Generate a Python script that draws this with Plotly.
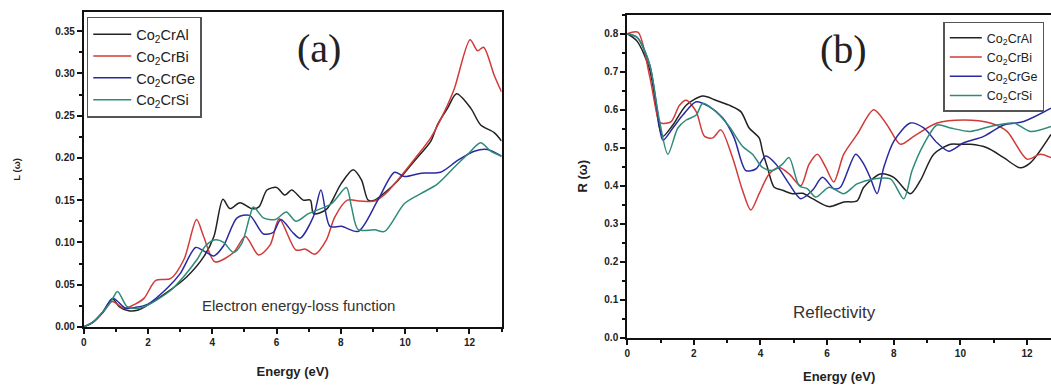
import plotly.graph_objects as go

# ---------------- data: (a) electron energy-loss function ----------------
names = ["Co<sub>2</sub>CrAl", "Co<sub>2</sub>CrBi", "Co<sub>2</sub>CrGe", "Co<sub>2</sub>CrSi"]
colors = ["#222222", "#d23a3a", "#2a2aa0", "#2e8b7a"]

eel_al_E = [0, 0.3, 0.6, 0.9, 1.1, 1.4, 1.7, 2.0, 2.6, 3.2, 3.75, 4.05, 4.33, 4.55, 4.86, 5.23, 5.45, 5.7, 6.0, 6.26, 6.47, 6.83, 7.05, 7.15, 7.55, 8.0, 8.38, 8.64, 8.85, 9.05, 9.4, 9.77, 10.3, 10.8, 11.0, 11.32, 11.6, 12.04, 12.35, 12.77, 13.0]
eel_al_L = [0, 0.006, 0.018, 0.033, 0.024, 0.019, 0.020, 0.026, 0.041, 0.059, 0.084, 0.107, 0.151, 0.140, 0.147, 0.140, 0.142, 0.162, 0.165, 0.156, 0.162, 0.150, 0.150, 0.134, 0.139, 0.169, 0.186, 0.174, 0.150, 0.150, 0.160, 0.173, 0.197, 0.220, 0.239, 0.259, 0.276, 0.259, 0.239, 0.230, 0.220]

eel_bi_E = [0, 0.3, 0.6, 0.88, 1.26, 1.6, 1.88, 2.24, 2.7, 3.12, 3.51, 3.73, 4.08, 4.66, 5.03, 5.44, 5.8, 6.08, 6.6, 6.9, 7.19, 7.55, 7.81, 8.2, 8.6, 9.05, 9.4, 9.77, 10.3, 10.8, 11.2, 11.53, 12.02, 12.25, 12.44, 12.77, 13.0]
eel_bi_L = [0, 0.006, 0.017, 0.030, 0.022, 0.027, 0.034, 0.055, 0.057, 0.080, 0.127, 0.107, 0.077, 0.088, 0.107, 0.085, 0.097, 0.128, 0.091, 0.092, 0.086, 0.103, 0.130, 0.150, 0.149, 0.149, 0.158, 0.174, 0.199, 0.224, 0.253, 0.282, 0.340, 0.327, 0.331, 0.298, 0.278]

eel_ge_E = [0, 0.3, 0.6, 0.9, 1.3, 1.6, 2.0, 2.6, 3.0, 3.48, 3.73, 4.05, 4.35, 4.77, 5.16, 5.59, 5.9, 6.13, 6.52, 6.73, 7.14, 7.38, 7.66, 8.02, 8.54, 9.15, 9.67, 9.98, 10.5, 11.1, 11.63, 12.15, 12.56, 13.0]
eel_ge_L = [0, 0.006, 0.018, 0.034, 0.022, 0.023, 0.027, 0.046, 0.063, 0.094, 0.090, 0.084, 0.096, 0.129, 0.132, 0.110, 0.112, 0.127, 0.111, 0.105, 0.130, 0.162, 0.119, 0.119, 0.113, 0.150, 0.183, 0.178, 0.182, 0.183, 0.197, 0.208, 0.210, 0.202]

eel_si_E = [0, 0.3, 0.6, 0.85, 1.05, 1.35, 1.7, 2.0, 2.7, 3.12, 3.53, 3.79, 4.1, 4.35, 4.66, 4.92, 5.16, 5.28, 5.59, 5.96, 6.3, 6.6, 6.99, 7.71, 8.17, 8.33, 8.54, 9.05, 9.36, 9.98, 10.5, 11.0, 11.53, 11.94, 12.35, 12.66, 13.0]
eel_si_L = [0, 0.006, 0.018, 0.030, 0.042, 0.024, 0.022, 0.026, 0.043, 0.060, 0.080, 0.096, 0.103, 0.100, 0.088, 0.099, 0.130, 0.142, 0.129, 0.127, 0.136, 0.125, 0.134, 0.146, 0.165, 0.142, 0.115, 0.115, 0.113, 0.146, 0.158, 0.169, 0.189, 0.204, 0.218, 0.208, 0.202]

# ---------------- data: (b) reflectivity ----------------
ref_al_E = [0, 0.3, 0.67, 0.97, 1.07, 1.37, 1.77, 2.27, 2.66, 3.06, 3.41, 3.66, 3.96, 4.06, 4.21, 4.41, 4.66, 4.96, 5.26, 5.56, 6.06, 6.5, 6.9, 7.1, 7.6, 8.0, 8.5, 8.8, 9.2, 9.7, 10.0, 10.3, 10.8, 11.3, 11.8, 12.1, 12.72]
ref_al_R = [0.80, 0.78, 0.707, 0.552, 0.53, 0.56, 0.612, 0.636, 0.625, 0.612, 0.595, 0.552, 0.526, 0.491, 0.448, 0.396, 0.388, 0.379, 0.38, 0.366, 0.345, 0.357, 0.36, 0.396, 0.431, 0.422, 0.379, 0.414, 0.483, 0.509, 0.509, 0.509, 0.50, 0.474, 0.447, 0.46, 0.535]

ref_bi_E = [0, 0.32, 0.67, 0.92, 1.0, 1.32, 1.57, 1.77, 2.07, 2.32, 2.57, 2.81, 3.16, 3.46, 3.71, 3.96, 4.26, 4.56, 4.86, 5.21, 5.46, 5.71, 5.96, 6.2, 6.5, 6.9, 7.4, 7.8, 8.2, 8.6, 9.3, 10.1, 10.9, 11.4, 12.0, 12.4, 12.72]
ref_bi_R = [0.80, 0.804, 0.69, 0.578, 0.565, 0.569, 0.612, 0.625, 0.595, 0.53, 0.526, 0.547, 0.474, 0.388, 0.336, 0.379, 0.431, 0.448, 0.431, 0.40, 0.457, 0.483, 0.448, 0.41, 0.483, 0.535, 0.60, 0.56, 0.509, 0.53, 0.565, 0.573, 0.565, 0.543, 0.47, 0.483, 0.474]

ref_ge_E = [0, 0.3, 0.67, 0.9, 1.07, 1.37, 1.67, 2.07, 2.46, 2.87, 3.21, 3.56, 3.86, 4.16, 4.46, 4.86, 5.21, 5.56, 5.86, 6.21, 6.4, 6.86, 7.1, 7.3, 7.5, 7.7, 8.0, 8.5, 8.9, 9.3, 9.65, 10.1, 10.7, 11.3, 11.9, 12.72]
ref_ge_R = [0.80, 0.79, 0.72, 0.60, 0.52, 0.552, 0.586, 0.621, 0.608, 0.578, 0.526, 0.44, 0.444, 0.478, 0.457, 0.405, 0.366, 0.388, 0.422, 0.392, 0.396, 0.483, 0.457, 0.42, 0.379, 0.448, 0.517, 0.565, 0.552, 0.513, 0.491, 0.513, 0.53, 0.56, 0.569, 0.604]

ref_si_E = [0, 0.3, 0.67, 0.95, 1.22, 1.52, 1.77, 2.07, 2.27, 2.66, 3.06, 3.46, 3.76, 4.06, 4.36, 4.66, 4.86, 5.16, 5.41, 5.66, 6.06, 6.5, 6.9, 7.4, 7.9, 8.3, 8.55, 8.9, 9.3, 9.7, 10.3, 10.9, 11.6, 12.1, 12.72]
ref_si_R = [0.80, 0.79, 0.72, 0.58, 0.483, 0.552, 0.573, 0.586, 0.617, 0.595, 0.556, 0.504, 0.483, 0.448, 0.44, 0.457, 0.474, 0.40, 0.392, 0.370, 0.396, 0.379, 0.405, 0.418, 0.418, 0.366, 0.44, 0.509, 0.56, 0.552, 0.543, 0.556, 0.565, 0.543, 0.556]

eel_sets = [(eel_al_E, eel_al_L), (eel_bi_E, eel_bi_L), (eel_ge_E, eel_ge_L), (eel_si_E, eel_si_L)]
ref_sets = [(ref_al_E, ref_al_R), (ref_bi_E, ref_bi_R), (ref_ge_E, ref_ge_R), (ref_si_E, ref_si_R)]

FONT = "Liberation Sans, Arial, sans-serif"
SERIF = "Liberation Serif, Times New Roman, serif"
fig = go.Figure()

for i, ((x, y), n, c) in enumerate(zip(eel_sets, names, colors)):
    fig.add_trace(go.Scatter(x=x, y=y, name=n, mode="lines", xaxis="x", yaxis="y",
                             line=dict(color=c, width=1.5, shape="spline", smoothing=0.8),
                             legend="legend", legendgroup=f"a{i}"))
for i, ((x, y), n, c) in enumerate(zip(ref_sets, names, colors)):
    fig.add_trace(go.Scatter(x=x, y=y, name=n, mode="lines", xaxis="x2", yaxis="y2",
                             line=dict(color=c, width=1.5, shape="spline", smoothing=0.8),
                             legend="legend2", legendgroup=f"b{i}"))

W, H = 1051, 387
def px_x(p): return p / W
def px_y(p): return 1 - p / H

tickfont = dict(family=FONT, size=10, color="#222", weight="bold")
minor_common = dict(ticks="outside", ticklen=3, tickwidth=1.5, tickcolor="#111")
axis_common = dict(showline=True, linewidth=2, linecolor="#111", ticks="outside", ticklen=5,
                   tickwidth=2, tickcolor="#111", showgrid=False, zeroline=False,
                   tickfont=tickfont)
title_font = dict(family=FONT, size=13, color="#222", weight="bold")

fig.update_layout(
    width=W, height=H, margin=dict(l=0, r=0, t=0, b=0),
    paper_bgcolor="white", plot_bgcolor="white",
    font=dict(family=FONT, color="#222"),
    xaxis=dict(domain=[px_x(81), px_x(500)], range=[0, 13], dtick=2, mirror=True,
               minor=dict(dtick=1, **minor_common),
               title=dict(text="Energy (eV)", font=title_font, standoff=20),
               anchor="y", **axis_common),
    yaxis=dict(domain=[px_y(332), px_y(12)], range=[0, 0.373], dtick=0.05, tickformat=".2f",
               mirror=True,
               minor=dict(dtick=0.025, **minor_common),
               title=dict(text="L (ω)", font=dict(family=FONT, size=9.5, color="#222", weight="bold"), standoff=33),
               anchor="x", **axis_common),
    xaxis2=dict(domain=[px_x(626), 1.0], range=[0, 12.72], dtick=2, mirror=True,
                minor=dict(dtick=1, **minor_common),
                title=dict(text="Energy (eV)", font=title_font, standoff=14),
                anchor="y2", **axis_common),
    yaxis2=dict(domain=[px_y(343), px_y(15)], range=[0, 0.85], dtick=0.1, tickformat=".1f",
                mirror=False,
                minor=dict(dtick=0.05, **minor_common),
                title=dict(text="R (ω)", font=title_font, standoff=14),
                anchor="x2", **axis_common),
    legend=dict(x=px_x(84), y=px_y(17), xanchor="left", yanchor="top",
                bgcolor="white", bordercolor="#555", borderwidth=1.5,
                font=dict(family=FONT, size=14.5, color="#222"), itemwidth=38, tracegroupgap=0),
    legend2=dict(x=px_x(943), y=px_y(22), xanchor="left", yanchor="top",
                 bgcolor="white", bordercolor="#555", borderwidth=1.5,
                 font=dict(family=FONT, size=12.5, color="#222"), itemwidth=32, tracegroupgap=0),
    annotations=[
        dict(text="(a)", x=px_x(317), y=px_y(49), xref="paper", yref="paper", showarrow=False,
             xanchor="center", yanchor="middle",
             font=dict(family=SERIF, size=40, color="#222")),
        dict(text="(b)", x=px_x(843), y=px_y(50), xref="paper", yref="paper", showarrow=False,
             xanchor="center", yanchor="middle",
             font=dict(family=SERIF, size=40, color="#222")),
        dict(text="Electron energy-loss function", x=px_x(296), y=px_y(310), xref="paper", yref="paper",
             xanchor="center", yanchor="middle",
             showarrow=False, font=dict(family=FONT, size=15, color="#333")),
        dict(text="Reflectivity", x=px_x(834), y=px_y(317), xref="paper", yref="paper",
             xanchor="center", yanchor="middle",
             showarrow=False, font=dict(family=FONT, size=17, color="#333")),
    ],
)

fig.write_html("out.html")
